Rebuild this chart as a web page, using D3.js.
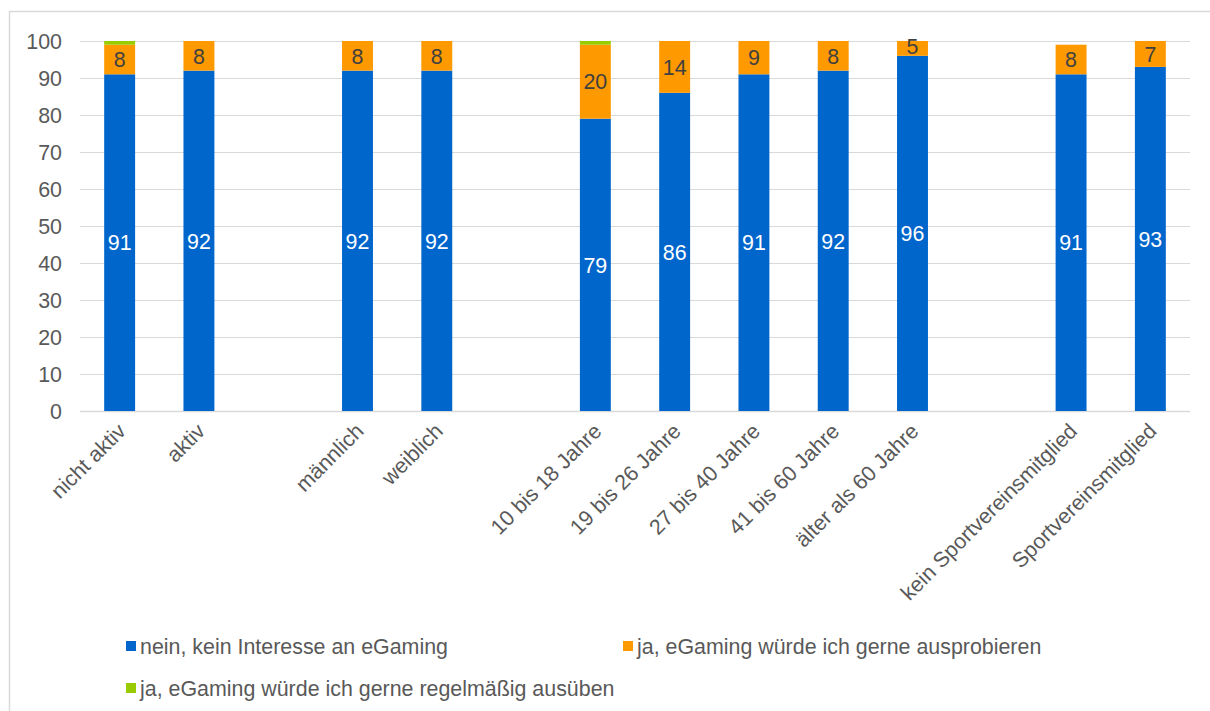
<!DOCTYPE html>
<html><head><meta charset="utf-8">
<script src="https://cdnjs.cloudflare.com/ajax/libs/d3/7.8.5/d3.min.js"></script>
<style>body{margin:0;background:#fff}svg{display:block;font-family:"Liberation Sans",Arial,sans-serif}</style>
</head><body>
<svg id="c" width="1210" height="711"></svg>
<script>
// slots including empty gap slots
const categories = ["nicht aktiv","aktiv","_g1","männlich","weiblich","_g2","10 bis 18 Jahre","19 bis 26 Jahre","27 bis 40 Jahre","41 bis 60 Jahre","älter als 60 Jahre","_g3","kein Sportvereinsmitglied","Sportvereinsmitglied"];
const nein   = [91,92,null,92,92,null,79,86,91,92,96,null,91,93];
const probieren = [8,8,null,8,8,null,20,14,9,8,5,null,8,7];
const regel  = [1,0,null,0,0,null,1,0,0,0,0,null,0,0];
const seriesNames = ["nein, kein Interesse an eGaming","ja, eGaming würde ich gerne ausprobieren","ja, eGaming würde ich gerne regelmäßig ausüben"];
const colors = ["#0066CC","#FF9900","#99CC00"];
const yTicks = [0,10,20,30,40,50,60,70,80,90,100];
const FS = 21.4;

const svg = d3.select("#c");
svg.append("rect").attr("x",9.5).attr("y",11.5).attr("width",1210).attr("height",720)
  .attr("fill","none").attr("stroke","#d9d9d9").attr("stroke-width",1.5);

const pL=80, pR=1190, pT=41, pB=411;
const x = d3.scaleBand().domain(categories).range([pL,pR]).paddingInner(0.61).paddingOuter(0.305);
const y = d3.scaleLinear().domain([0,100]).range([pB,pT]);

svg.append("clipPath").attr("id","pc").append("rect")
  .attr("x",pL).attr("y",pT).attr("width",pR-pL).attr("height",pB-pT);

// gridlines
svg.append("g").selectAll("line").data(yTicks).join("line")
  .attr("x1",pL).attr("x2",pR).attr("y1",d=>Math.round(y(d))+0.5).attr("y2",d=>Math.round(y(d))+0.5)
  .attr("stroke","#d9d9d9").attr("stroke-width",d=>d===0?1.5:1.2);

// y labels
svg.append("g").selectAll("text").data(yTicks).join("text")
  .attr("x",62).attr("y",d=>y(d)).attr("dy","0.36em").attr("text-anchor","end")
  .attr("font-size",FS).attr("fill","#595959").text(d=>d);

const rows = categories.map((c,i)=>({c, v:[nein[i],probieren[i],regel[i]]})).filter(r=>r.v[0]!==null);
const g = svg.append("g").attr("clip-path","url(#pc)");
rows.forEach(r=>{
  let acc=0;
  r.v.forEach((v,k)=>{
    if(!v) return;
    g.append("rect").attr("x",x(r.c)).attr("width",x.bandwidth())
      .attr("y",y(acc+v)).attr("height",y(acc)-y(acc+v)).attr("fill",colors[k]);
    acc+=v;
  });
});
// labels
rows.forEach(r=>{
  let acc=0;
  r.v.forEach((v,k)=>{
    if(!v) return;
    if(k<2){
      svg.append("text").attr("x",x(r.c)+x.bandwidth()/2).attr("y",y(acc+v/2)).attr("dy","0.36em")
        .attr("text-anchor","middle").attr("font-size",FS)
        .attr("fill",k===0?"#ffffff":"#404040").text(v);
    }
    acc+=v;
  });
});

// category labels
svg.append("g").selectAll("text").data(rows).join("text")
  .attr("transform",d=>`translate(${x(d.c)+x.bandwidth()/2+2},${pB+16}) rotate(-45)`)
  .attr("text-anchor","end").attr("dy","0.36em").attr("font-size",FS).attr("fill","#595959").text(d=>d.c);

// legend
const leg = [{i:0,x:126,y:641},{i:1,x:623,y:641},{i:2,x:126,y:683}];
leg.forEach(l=>{
  svg.append("rect").attr("x",l.x).attr("y",l.y).attr("width",10).attr("height",10).attr("fill",colors[l.i]);
  svg.append("text").attr("x",l.x+14).attr("y",l.y+5).attr("dy","0.36em").attr("font-size",FS)
    .attr("fill","#595959").text(seriesNames[l.i]);
});
</script>
</body></html>
